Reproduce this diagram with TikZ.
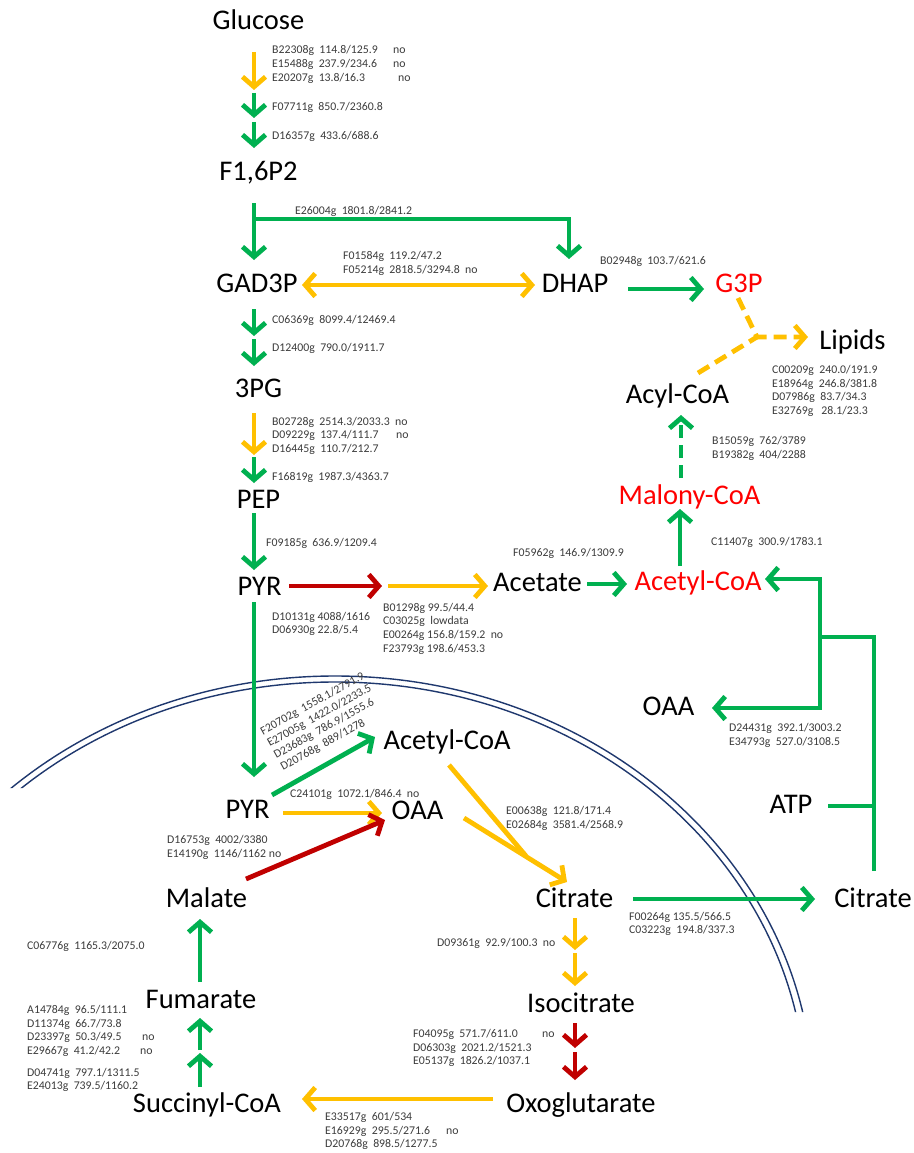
\documentclass[tikz,border=0pt]{standalone}
\usepackage{fontspec}
\setmainfont{Carlito}
\usetikzlibrary{arrows.meta}

\definecolor{fluxgreen}{RGB}{0,176,80}
\definecolor{fluxyellow}{RGB}{255,192,0}
\definecolor{fluxred}{RGB}{192,0,0}
\definecolor{membraneblue}{RGB}{31,56,110}
\definecolor{genegray}{RGB}{60,60,60}

\tikzset{barb/.tip={Straight Barb[length=10pt,width=23pt]}}

\begin{document}
\begin{tikzpicture}
  [x=1pt,y=-1pt,
   metab/.style={anchor=base,inner sep=0pt,font=\fontsize{28.5}{32}\selectfont},
   redmetab/.style={metab,text=red},
   genes/.style={anchor=west,align=left,inner sep=0pt,text=genegray,font=\fontsize{11.8}{13.7}\selectfont},
   flux/.style={line width=4.8pt,line join=miter,-barb},
   gflux/.style={flux,draw=fluxgreen},
   yflux/.style={flux,draw=fluxyellow},
   rflux/.style={flux,draw=fluxred},
   gline/.style={line width=4.8pt,draw=fluxgreen},
   yline/.style={line width=4.8pt,draw=fluxyellow},
   dashes/.style={dash pattern=on 13pt off 7pt}]

  \fill[white] (0,0) rectangle (913,1153);
  \useasboundingbox (0,0) rectangle (913,1153);

  % mitochondrial membrane
  \begin{scope}
    \clip (0,600) -- (913,600) -- (913,1012) -- (335,1012) -- (335,788) -- (0,788) -- cycle;
    \draw[membraneblue,line width=1.4pt] (335,1100) ellipse [x radius=478pt,y radius=424pt];
    \draw[membraneblue,line width=1.4pt] (335,1100) ellipse [x radius=471pt,y radius=418pt];
  \end{scope}

  % metabolites, cytosol
  \node[metab] (glc) at (258.5,30) {Glucose};
  \node[metab] (fbp) at (258.5,180) {F1,6P2};
  \node[metab] (gad3p) at (257,292) {GAD3P};
  \node[metab] (dhap) at (575,292) {DHAP};
  \node[redmetab] (g3p) at (739,292) {G3P};
  \node[metab] (lipids) at (852.5,349) {Lipids};
  \node[metab] (acyl) at (677.5,403) {Acyl-CoA};
  \node[metab] (pg3) at (258.5,397) {3PG};
  \node[metab] (pep) at (258.5,508) {PEP};
  \node[metab] (pyr) at (259.5,595) {PYR};
  \node[metab] (acetate) at (537.5,591) {Acetate};
  \node[redmetab] (malcoa) at (689.5,504) {Malony-CoA};
  \node[redmetab] (accoa) at (698,590) {Acetyl-CoA};
  \node[metab] (oaa) at (668.5,715) {OAA};
  \node[metab] (atp) at (791,813) {ATP};
  \node[metab] (citout) at (873,907) {Citrate};
  % metabolites, mitochondrion
  \node[metab] (pyrm) at (247.5,818) {PYR};
  \node[metab] (accoam) at (447,749) {Acetyl-CoA};
  \node[metab] (oaam) at (417.5,819) {OAA};
  \node[metab] (malate) at (206.5,907) {Malate};
  \node[metab] (citm) at (574.5,907) {Citrate};
  \node[metab] (fum) at (201,1008) {Fumarate};
  \node[metab] (isocit) at (581,1012) {Isocitrate};
  \node[metab] (succoa) at (207,1112) {Succinyl-CoA};
  \node[metab] (oxo) at (581,1112) {Oxoglutarate};

  % arrow ends
  \foreach \n/\y in {a/52,b/90,c/93,d/118,e/122,f/148,g/203,h/260,i/309,j/336,k/339,l/366,
                     m/413,n/455,o/457,p/483,q/513,r/570,s/602,t/777}
    \coordinate (gly\n) at (254,\y);
  \foreach \n/\y in {a/918,b/950,c/953,d/986,e/1023,f/1048,g/1052,h/1080}
    \coordinate (tca\n) at (575,\y);
  \foreach \n/\y in {a/919,b/982,c/1018,d/1050,e/1053,f/1087}
    \coordinate (fum\n) at (200,\y);
  \coordinate (fbpsplit) at (254,219);
  \coordinate (dhapin) at (569,259);
  \coordinate (gapout) at (302,285);
  \coordinate (dhapout) at (535,285);
  \coordinate (g3pin) at (628,289);
  \coordinate (g3pend) at (704,289);
  \coordinate (pyrout) at (289,586);
  \coordinate (pyrmid) at (382,586);
  \coordinate (acein) at (388,586);
  \coordinate (aceend) at (488,586);
  \coordinate (aceout) at (587,584);
  \coordinate (accoain) at (627,584);
  \coordinate (malin) at (680,566);
  \coordinate (malend) at (680,509);
  \coordinate (acylin) at (681,478);
  \coordinate (acylend) at (681,415);
  \coordinate (g3pout) at (738,298);
  \coordinate (lipjoin) at (757,337);
  \coordinate (lipend) at (808,337);
  \coordinate (acylout) at (698,373);
  \coordinate (citbase) at (874,871);
  \coordinate (citfork) at (874,637);
  \coordinate (lyase) at (820,637);
  \coordinate (accoaend) at (765,579);
  \coordinate (oaaend) at (712,708);
  \coordinate (atpout) at (828,806);
  \coordinate (atpin) at (874,806);
  \coordinate (pdhout) at (272,795);
  \coordinate (pdhend) at (375,737);
  \coordinate (pcout) at (283,813);
  \coordinate (pcend) at (382,813);
  \coordinate (mdhout) at (246,879);
  \coordinate (mdhend) at (385,820);
  \coordinate (csacoa) at (449,765);
  \coordinate (csjoin) at (526,856);
  \coordinate (csoaa) at (464,818);
  \coordinate (csend) at (567,882);
  \coordinate (ctout) at (633,899);
  \coordinate (ctend) at (815,899);
  \coordinate (kgout) at (493,1099);
  \coordinate (kgend) at (302,1099);

  % glycolysis
  \draw[yflux] (glya) -- (glyb);
  \draw[gflux] (glyc) -- (glyd);
  \draw[gflux] (glye) -- (glyf);
  \draw[gflux] (glyg) -- (glyh);
  \draw[gflux] (fbpsplit) -| (dhapin);
  \draw[yline,barb-barb] (gapout) -- (dhapout);
  \draw[gflux] (g3pin) -- (g3pend);
  \draw[gflux] (glyi) -- (glyj);
  \draw[gflux] (glyk) -- (glyl);
  \draw[yflux] (glym) -- (glyn);
  \draw[gflux] (glyo) -- (glyp);
  \draw[gflux] (glyq) -- (glyr);
  \draw[gflux] (glys) -- (glyt);

  % acetate and lipids
  \draw[rflux] (pyrout) -- (pyrmid);
  \draw[yflux] (acein) -- (aceend);
  \draw[gflux] (aceout) -- (accoain);
  \draw[gflux] (malin) -- (malend);
  \draw[gflux,dashes] (acylin) -- (acylend);
  \draw[yflux,dashes] (g3pout) -- (lipjoin) -- (lipend);
  \draw[yline,dashes] (acylout) -- (lipjoin);

  % citrate export
  \draw[gline] (citbase) -- (citfork) -- (lyase);
  \draw[gflux] (lyase) |- (accoaend);
  \draw[gflux] (lyase) |- (oaaend);
  \draw[gline] (atpout) -- (atpin);

  % TCA cycle
  \draw[gflux] (pdhout) -- (pdhend);
  \draw[yflux] (pcout) -- (pcend);
  \draw[rflux] (mdhout) -- (mdhend);
  \draw[yline] (csacoa) -- (csjoin);
  \draw[yflux] (csoaa) -- (csend);
  \draw[gflux] (ctout) -- (ctend);
  \draw[yflux] (tcaa) -- (tcab);
  \draw[yflux] (tcac) -- (tcad);
  \draw[rflux] (tcae) -- (tcaf);
  \draw[rflux] (tcag) -- (tcah);
  \draw[yflux] (kgout) -- (kgend);
  \draw[gflux] (fumb) -- (fuma);
  \draw[gflux] (fumd) -- (fumc);
  \draw[gflux] (fumf) -- (fume);

  % gene lists
  \node[genes] (hkgenes) at (272,64.5) {\makebox[121pt][l]{B22308g~~114.8/125.9}no\\
    \makebox[121pt][l]{E15488g~~237.9/234.6}no\\ \makebox[126pt][l]{E20207g~~13.8/16.3}no};
  \node[genes] (pgigenes) at (272,107) {F07711g~~850.7/2360.8};
  \node[genes] (pfkgenes) at (272,136) {D16357g~~433.6/688.6};
  \node[genes] (aldgenes) at (295,211) {E26004g~~1801.8/2841.2};
  \node[genes] (tpigenes) at (343,263.5) {F01584g~~119.2/47.2\\ F05214g~~2818.5/3294.8~~no};
  \node[genes] (gpdgenes) at (600,261) {B02948g~~103.7/621.6};
  \node[genes] (gapdhgenes) at (272,320) {C06369g~~8099.4/12469.4};
  \node[genes] (pgkgenes) at (272,348) {D12400g~~790.0/1911.7};
  \node[genes] (pgmgenes) at (272,435.7) {\makebox[123pt][l]{B02728g~~2514.3/2033.3}no\\
    \makebox[124pt][l]{D09229g~~137.4/111.7}no\\ D16445g~~110.7/212.7};
  \node[genes] (enogenes) at (272,477) {F16819g~~1987.3/4363.7};
  \node[genes] (pkgenes) at (266,543) {F09185g~~636.9/1209.4};
  \node[genes] (acsgenes) at (513,553) {F05962g~~146.9/1309.9};
  \node[genes] (accgenes) at (711,542) {C11407g~~300.9/1783.1};
  \node[genes] (pdcgenes) at (272,624) {D10131g 4088/1616\\ D06930g 22.8/5.4};
  \node[genes] (aldhgenes) at (383,628.5) {B01298g 99.5/44.4\\ C03025g~~lowdata\\
    E00264g 156.8/159.2~~no\\ F23793g 198.6/453.3};
  \node[genes] (lipgenes) at (772,391) {C00209g~~240.0/191.9\\ E18964g~~246.8/381.8\\
    D07986g~~83.7/34.3\\ E32769g~~~28.1/23.3};
  \node[genes] (fasgenes) at (712,448.5) {B15059g~~762/3789\\ B19382g~~404/2288};
  \node[genes] (aclgenes) at (729,735.5) {D24431g~~392.1/3003.2\\ E34793g~~527.0/3108.5};
  \node[genes,anchor=south west,rotate=29] (pdhgenes) at (284,773)
    {F20702g~~1558.1/2791.9\\ E27005g~~1422.0/2233.5\\ D23683g~~786.9/1555.6\\ D20768g~~889/1278};
  \node[genes] (pcgenes) at (290,794) {C24101g~~1072.1/846.4~~no};
  \node[genes] (mdhgenes) at (167,847.5) {D16753g~~4002/3380\\ E14190g~~1146/1162 no};
  \node[genes] (csgenes) at (506,818.5) {E00638g~~121.8/171.4\\ E02684g~~3581.4/2568.9};
  \node[genes] (ctpgenes) at (629,924) {F00264g 135.5/566.5\\ C03223g~~194.8/337.3};
  \node[genes] (fumgenes) at (27,946) {C06776g~~1165.3/2075.0};
  \node[genes] (sdhgenes) at (27,1031) {A14784g~~96.5/111.1\\ D11374g~~66.7/73.8\\
    \makebox[115pt][l]{D23397g~~50.3/49.5}no\\ \makebox[113pt][l]{E29667g~~41.2/42.2}no};
  \node[genes] (scsgenes) at (27,1080) {D04741g~~797.1/1311.5\\ E24013g~~739.5/1160.2};
  \node[genes] (acogenes) at (437,943) {D09361g~~92.9/100.3~~no};
  \node[genes] (idhgenes) at (413,1048) {\makebox[129pt][l]{F04095g~~571.7/611.0}no\\
    D06303g~~2021.2/1521.3\\ E05137g~~1826.2/1037.1};
  \node[genes] (kgdgenes) at (325,1131) {E33517g~~601/534\\
    \makebox[121pt][l]{E16929g~~295.5/271.6}no\\ D20768g~~898.5/1277.5};
\end{tikzpicture}
\end{document}
